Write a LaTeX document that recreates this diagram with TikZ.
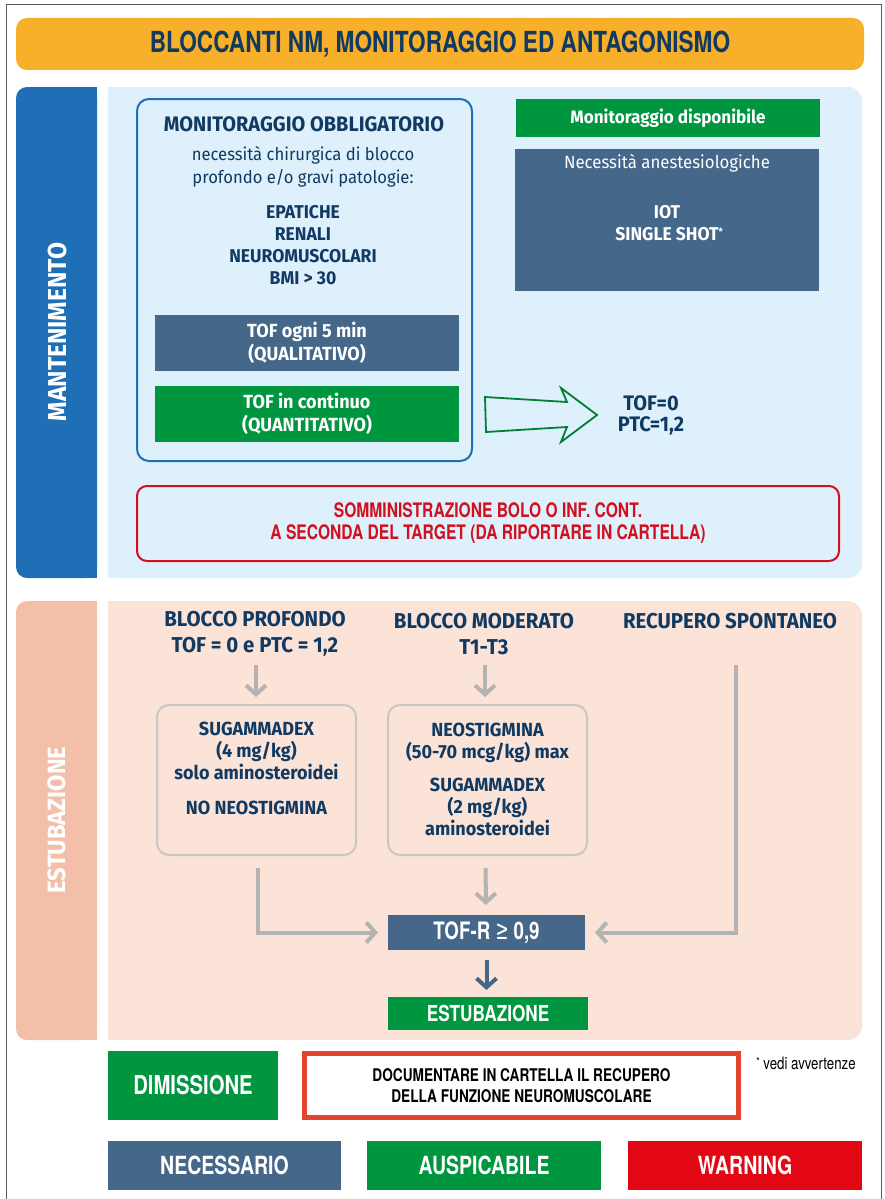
\documentclass[tikz,border=0pt]{standalone}
\usepackage{fontspec}
\setmainfont{Fira Sans}[FakeStretch=0.95]
\newfontfamily\cond{TeX Gyre Heros}[FakeStretch=0.78]
\usetikzlibrary{arrows.meta}
\definecolor{orangeT}{RGB}{248,175,42}
\definecolor{navy}{RGB}{16,58,98}
\definecolor{blueT}{RGB}{31,111,183}
\definecolor{lightB}{RGB}{222,240,251}
\definecolor{slate}{RGB}{68,103,138}
\definecolor{greenT}{RGB}{0,150,64}
\definecolor{salmonT}{RGB}{244,191,168}
\definecolor{salmonP}{RGB}{251,227,216}
\definecolor{grayA}{RGB}{179,179,179}
\definecolor{grayB}{RGB}{201,198,195}
\definecolor{redA}{RGB}{209,16,31}
\definecolor{redB}{RGB}{228,67,47}
\definecolor{redW}{RGB}{227,6,19}
\newcommand\fs[2]{\fontsize{#1}{#2}\selectfont}
\tikzset{
  base/.style={inner sep=0pt, outer sep=0pt, align=center},
  navytxt/.style={base, text=navy, font=\bfseries\fs{18}{22}},
  slatebox/.style={base, fill=slate, text=white},
  greenbox/.style={base, fill=greenT, text=white},
  graybox/.style={base, draw=grayB, line width=2pt, rounded corners=12pt},
  garrow/.style={draw=grayA, line width=4pt, -{Straight Barb[length=9pt,width=20pt]}},
  darrow/.style={draw=slate, line width=4pt, -{Straight Barb[length=9pt,width=20pt]}},
  tablabel/.style={base, text=white, rotate=90, font=\bfseries\fs{26}{30}}
}
\begin{document}
\begin{tikzpicture}[x=1pt,y=-1pt]
\useasboundingbox (0,0) rectangle (885,1199);
% frame
\draw[black!65, line width=1.3pt] (6.5,1199) -- (6.5,4.5) -- (881.5,4.5) -- (881.5,1199);

% title
\node[base, fill=orangeT, rounded corners=11pt, minimum width=848pt, minimum height=52pt,
      text=navy, font=\cond\bfseries\fs{29}{32}] (title) at (440,44)
      {BLOCCANTI NM, MONITORAGGIO ED ANTAGONISMO};

% ---------- MANTENIMENTO ----------
\fill[blueT, rounded corners=11pt] (16,87) rectangle (97,578);
\fill[blueT] (60,87) rectangle (97,578);
\fill[lightB, rounded corners=14pt] (108,87) rectangle (862,578);
\fill[lightB] (108,87) rectangle (500,578);
\node[tablabel] (lab1) at (57,332) {MANTENIMENTO};

\node[base, draw=blueT, line width=2pt, rounded corners=12pt,
      minimum width=335pt, minimum height=362pt] (obb) at (304.5,280) {};
\node[navytxt, font=\bfseries\fs{21}{24}] (obbh) at (304,124) {MONITORAGGIO OBBLIGATORIO};
\node[base, text=navy, font=\fs{17.5}{23}] (obbt) at (303,167)
  {necessità chirurgica di blocco\\profondo e/o gravi patologie:};
\node[navytxt, font=\bfseries\fs{18.5}{22}] (obbl) at (303,245)
  {EPATICHE\\RENALI\\NEUROMUSCOLARI\\BMI > 30};
\node[slatebox, minimum width=304pt, minimum height=56pt, font=\bfseries\fs{19}{23}] (qual) at (307,343)
  {TOF ogni 5 min\\(QUALITATIVO)};
\node[greenbox, minimum width=304pt, minimum height=56pt, font=\bfseries\fs{19}{23}] (quant) at (307,414)
  {TOF in continuo\\(QUANTITATIVO)};

\node[greenbox, minimum width=304pt, minimum height=38pt, font=\bfseries\fs{18}{20}] (disp) at (668,118)
  {Monitoraggio disponibile};
\node[slatebox, minimum width=304pt, minimum height=142pt] (anest) at (667,220) {};
\node[base, text=white, font=\fs{17.7}{20}] (anestt) at (667,163) {Necessità anestesiologiche};
\node[base, text=white, font=\bfseries\fs{18.5}{22}] (iot) at (667,223)
  {IOT\\SINGLE SHOT\rlap{\raisebox{5pt}{\fs{10}{10}*}}};

\draw[greenT!85!black, line width=1.8pt, line join=miter]
  (485,397) -- (567,402) -- (561,388) -- (597,415) -- (561,442) -- (567,427) -- (486,432) -- cycle;
\node[navytxt, font=\bfseries\fs{21}{21}] (tofptc) at (651,415) {TOF=0\\PTC=1,2};

\node[base, draw=redA, line width=2pt, rounded corners=10pt, minimum width=702pt, minimum height=75pt,
      text=redA, font=\cond\bfseries\fs{20}{22}] (somm) at (488,523.5)
  {SOMMINISTRAZIONE BOLO O INF. CONT.\\A SECONDA DEL TARGET (DA RIPORTARE IN CARTELLA)};

% ---------- ESTUBAZIONE ----------
\fill[salmonT, rounded corners=11pt] (16,601) rectangle (97,1040);
\fill[salmonT] (60,601) rectangle (97,1040);
\fill[salmonP, rounded corners=14pt] (108,601) rectangle (862,1040);
\fill[salmonP] (108,601) rectangle (500,1040);
\node[tablabel, font=\bfseries\fs{25}{30}] (lab2) at (57,820) {ESTUBAZIONE};

\node[navytxt, font=\bfseries\fs{21.5}{26}] (hp) at (255,634) {BLOCCO PROFONDO\\TOF = 0 e PTC = 1,2};
\node[navytxt, font=\bfseries\fs{21.5}{26}] (hm) at (484,634) {BLOCCO MODERATO\\T1-T3};
\node[navytxt, font=\bfseries\fs{21.5}{26}] (hr) at (730,621) {RECUPERO SPONTANEO};

\node[graybox, minimum width=199pt, minimum height=150pt] (bp) at (256.5,780) {};
\node[graybox, minimum width=199pt, minimum height=150pt] (bm) at (487.5,780) {};
\node[navytxt, font=\bfseries\fs{19}{22}] (bpt) at (256.5,768)
  {SUGAMMADEX\\(4 mg/kg)\\solo aminosteroidei\\[13pt]NO NEOSTIGMINA};
\node[navytxt, font=\bfseries\fs{19}{22}] (bmt) at (487.5,779)
  {NEOSTIGMINA\\(50-70 mcg/kg) max\\[11pt]SUGAMMADEX\\(2 mg/kg)\\aminosteroidei};

\node[slatebox, minimum width=197pt, minimum height=35pt, font=\cond\bfseries\fs{24}{26}] (tofr) at (486.5,932.5)
  {TOF-R {\rmfamily\mdseries\fs{27}{27}≥} 0,9};
\node[greenbox, minimum width=200pt, minimum height=33pt, font=\cond\bfseries\fs{22}{24}] (est) at (488,1013.5)
  {ESTUBAZIONE};

\coordinate (ptop) at (256,665);
\coordinate (mtop) at (485,665);
\coordinate (rtop) at (736,665);
\draw[garrow, shorten >=8pt] (ptop) -- (ptop |- bp.north);
\draw[garrow, shorten >=8pt] (mtop) -- (mtop |- bm.north);
\draw[garrow, shorten <=13pt, shorten >=10pt] ([xshift=1.5pt]bp.south) |- (tofr.west);
\draw[garrow, shorten <=13pt, shorten >=10pt] ([xshift=-2pt]bm.south) -- ([xshift=-1.5pt]bm.south |- tofr.north);
\draw[garrow, shorten >=10pt] (rtop) |- (tofr.east);
\draw[darrow, shorten <=10pt, shorten >=7pt] (tofr.south) -- (tofr.south |- est.north);

% ---------- bottom ----------
\node[greenbox, minimum width=170pt, minimum height=69pt, font=\cond\bfseries\fs{26}{28}] (dim) at (193,1085.5)
  {DIMISSIONE};
\node[base, draw=redB, line width=4.5pt, minimum width=434pt, minimum height=64pt,
      text=black, font=\cond\bfseries\fs{17.5}{21}] (doc) at (521.5,1085.5)
  {DOCUMENTARE IN CARTELLA IL RECUPERO\\DELLA FUNZIONE NEUROMUSCOLARE};
\node[base, text=black, font=\cond\fs{17}{18}] (note) at (806,1063) {\raisebox{4pt}{\fs{11}{11}*} vedi avvertenze};

\node[slatebox, minimum width=233pt, minimum height=49pt, font=\cond\bfseries\fs{25}{28}] (nec) at (224.5,1165.5) {NECESSARIO};
\node[greenbox, minimum width=234pt, minimum height=49pt, font=\cond\bfseries\fs{25}{28}] (aus) at (484,1165.5) {AUSPICABILE};
\node[base, fill=redW, text=white, minimum width=234pt, minimum height=49pt, font=\cond\bfseries\fs{25}{28}] (warn) at (745,1165.5) {WARNING};
\end{tikzpicture}
\end{document}
